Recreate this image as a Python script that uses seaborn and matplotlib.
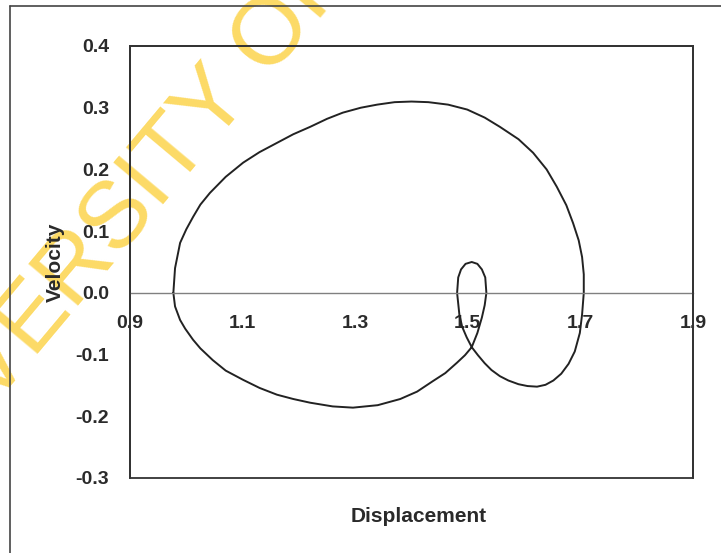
import matplotlib
matplotlib.use("Agg")
import matplotlib.pyplot as plt
from matplotlib.lines import Line2D
from matplotlib.patches import Rectangle
import pandas as pd
import seaborn as sns

# Phase-plane trajectory (displacement, velocity), traced in order around the orbit
displacement = [
    0.977, 0.980, 0.989, 1.000, 1.012, 1.025, 1.042, 1.070, 1.101, 1.130,
    1.161, 1.190, 1.220, 1.250, 1.278, 1.310, 1.339, 1.370, 1.400, 1.430,
    1.465, 1.499, 1.530, 1.557, 1.590, 1.616, 1.640, 1.658, 1.675, 1.687,
    1.697, 1.703, 1.706, 1.706, 1.703, 1.699, 1.690, 1.679, 1.666, 1.652,
    1.638, 1.623, 1.606, 1.590, 1.572, 1.557, 1.542, 1.530, 1.518, 1.507,
    1.498, 1.490, 1.485, 1.481, 1.483, 1.488, 1.496, 1.507, 1.517, 1.525,
    1.531, 1.533, 1.530, 1.525, 1.517, 1.507, 1.495, 1.481, 1.460, 1.438,
    1.410, 1.380, 1.340, 1.296, 1.260, 1.220, 1.190, 1.161, 1.130, 1.101,
    1.070, 1.047, 1.025, 1.012, 0.998, 0.989, 0.980, 0.977,
]
velocity = [
    0.000, 0.040, 0.081, 0.103, 0.123, 0.143, 0.162, 0.188, 0.211, 0.228,
    0.243, 0.257, 0.269, 0.282, 0.292, 0.300, 0.305, 0.309, 0.310, 0.309,
    0.305, 0.297, 0.284, 0.269, 0.249, 0.227, 0.200, 0.172, 0.142, 0.113,
    0.085, 0.058, 0.030, 0.000, -0.035, -0.065, -0.095, -0.115, -0.131, -0.142,
    -0.149, -0.152, -0.151, -0.148, -0.142, -0.135, -0.125, -0.114, -0.101, -0.088,
    -0.072, -0.055, -0.035, 0.000, 0.025, 0.038, 0.047, 0.050, 0.047, 0.038,
    0.025, 0.000, -0.020, -0.040, -0.065, -0.088, -0.101, -0.113, -0.130, -0.143,
    -0.160, -0.172, -0.182, -0.186, -0.184, -0.178, -0.172, -0.165, -0.154, -0.141,
    -0.126, -0.109, -0.090, -0.076, -0.058, -0.044, -0.022, 0.000,
]

x_ticks = [0.9, 1.1, 1.3, 1.5, 1.7, 1.9]
y_ticks = [-0.3, -0.2, -0.1, 0.0, 0.1, 0.2, 0.3, 0.4]
x_tick_labels = ["0.9", "1.1", "1.3", "1.5", "1.7", "1.9"]
y_tick_labels = ["-0.3", "-0.2", "-0.1", "0.0", "0.1", "0.2", "0.3", "0.4"]

df = pd.DataFrame({"Displacement": displacement, "Velocity": velocity})

sns.set_style("white")
plt.rcParams["font.family"] = ["Liberation Sans", "DejaVu Sans"]

W, H = 721, 553
fig = plt.figure(figsize=(W / 100, H / 100), dpi=100)
fig.patch.set_facecolor("white")

# plot area placed in pixel terms
left, right, top, bottom = 130, 693, 46, 478
ax = fig.add_axes([left / W, 1 - bottom / H, (right - left) / W, (bottom - top) / H])
ax.set_facecolor("none")

sns.lineplot(data=df, x="Displacement", y="Velocity", sort=False, estimator=None,
             color="#222222", linewidth=1.4, ax=ax)

ax.set_xlim(0.9, 1.9)
ax.set_ylim(-0.3, 0.4)
ax.set_xticks(x_ticks)
ax.set_xticklabels(x_tick_labels)
ax.set_yticks(y_ticks)
ax.set_yticklabels(y_tick_labels)

# category axis crosses at zero; plot-area border drawn as a frame
ax.spines["bottom"].set_position(("data", 0))
ax.spines["bottom"].set_color("#808080")
ax.spines["bottom"].set_linewidth(1.0)
for s in ["left", "top", "right"]:
    ax.spines[s].set_color("#333333")
    ax.spines[s].set_linewidth(1.3)
ax.add_patch(Rectangle((0, 0), 1, 1, transform=ax.transAxes, fill=False,
                       edgecolor="#333333", linewidth=1.3, zorder=5, clip_on=False))

ax.tick_params(axis="x", direction="out", length=5, width=1, color="#808080",
               pad=11, labelsize=14, labelcolor="#2a2a2a")
ax.tick_params(axis="y", direction="out", length=5, width=1, color="#333333",
               pad=10, labelsize=14, labelcolor="#2a2a2a")
for lab in ax.get_xticklabels() + ax.get_yticklabels():
    lab.set_fontweight("bold")

ax.set_xlabel("Displacement", fontsize=15, fontweight="bold", color="#2a2a2a")
ax.set_ylabel("Velocity", fontsize=15, fontweight="bold", color="#2a2a2a")
ax.xaxis.set_label_coords((419 - left) / (right - left), -(516 - bottom) / (bottom - top))
ax.xaxis.label.set_va("center")
ax.yaxis.set_label_coords(-(left - 55) / (right - left), 0.5)
ax.yaxis.label.set_va("center")

# outer chart border
fig.add_artist(Line2D([10 / W, 10 / W], [0, 1 - 6 / H], transform=fig.transFigure,
                      color="#444444", linewidth=1.2))
fig.add_artist(Line2D([10 / W, 1], [1 - 6 / H, 1 - 6 / H], transform=fig.transFigure,
                      color="#444444", linewidth=1.2))

# institutional watermark
fig.text(-112 / W, 1 - 532 / H, "UNIVERSITY OF CAPE TOWN", rotation=50,
         rotation_mode="anchor", ha="left", va="baseline", fontsize=68,
         color="#FCDA66", zorder=-1)

fig.savefig("out.png", dpi=100)
